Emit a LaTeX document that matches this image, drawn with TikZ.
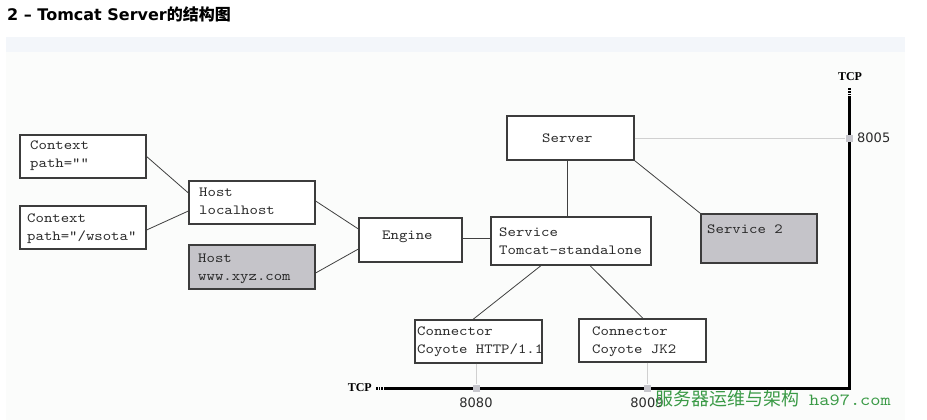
\documentclass[tikz,border=0pt]{standalone}
\usepackage{fontspec}
\setmainfont{DejaVu Sans}
\setmonofont{lmmono10-regular}[Extension=.otf, FakeStretch=1.143]
\newfontfamily\cjk{Noto Sans CJK SC}
\newfontfamily\tcpfont{Liberation Serif}
\definecolor{boxc}{HTML}{3C3C3C}
\definecolor{grayfill}{HTML}{C5C4C9}
\definecolor{txtc}{HTML}{2A2A2A}
\definecolor{linec}{HTML}{404040}
\definecolor{lightc}{HTML}{D0D0D0}
\definecolor{portc}{HTML}{C6C6CC}
\definecolor{bgc}{HTML}{FBFCFB}
\definecolor{bandc}{HTML}{F3F6FA}
\definecolor{wmc}{HTML}{3A9A46}
\tikzset{
  box/.style={draw=boxc, line width=1.2pt, inner sep=0pt, fill=white},
  gbox/.style={box, fill=grayfill},
  txt/.style={font=\ttfamily\fontsize{14}{18}\selectfont, text=txtc, inner sep=0pt, anchor=base west},
  link/.style={draw=linec, line width=0.8pt},
  plink/.style={draw=lightc, line width=1pt},
  port/.style={fill=portc, minimum size=7pt, inner sep=0pt},
  portlbl/.style={font=\fontsize{13}{13}\selectfont, text=txtc, inner sep=0pt},
  tcpline/.style={line width=3pt, draw=black},
  tcplbl/.style={font=\tcpfont\bfseries\fontsize{12}{12}\selectfont, inner sep=0pt},
}
\begin{document}
\begin{tikzpicture}[x=1pt, y=-1pt]
\useasboundingbox (0,0) rectangle (927,420);
\fill[white] (0,0) rectangle (927,420);
\fill[bgc] (6,37) rectangle (905,420);
\fill[bandc] (6,37) rectangle (905,52);

% title
\node[anchor=base west, inner sep=0pt, font=\bfseries\fontsize{16}{16}\selectfont] (title) at (7,21)
  {2 – Tomcat Server{\cjk\bfseries 的结构图}};

% boxes
\node[box, minimum width=126pt, minimum height=43pt] (ctx1) at (83,156.5) {};
\node[box, minimum width=126pt, minimum height=43pt] (ctx2) at (83,227.5) {};
\node[box, minimum width=126pt, minimum height=43pt] (host1) at (252,202.5) {};
\node[gbox, minimum width=126pt, minimum height=44pt] (host2) at (252,267) {};
\node[box, minimum width=103pt, minimum height=44pt] (engine) at (410.5,240) {};
\node[box, minimum width=127pt, minimum height=44pt] (server) at (570.5,138) {};
\node[box, minimum width=160pt, minimum height=48pt] (service) at (571,241) {};
\node[gbox, minimum width=116pt, minimum height=49pt] (svc2) at (759,238.5) {};
\node[box, minimum width=127pt, minimum height=43pt] (conn1) at (478.5,341.5) {};
\node[box, minimum width=127pt, minimum height=43pt] (conn2) at (642.5,340.5) {};

% texts
\node[txt] (ctx1a) at (30,149.5) {Context};
\node[txt] (ctx1b) at (30,167.5) {path=""};
\node[txt] (ctx2a) at (27,222.5) {Context};
\node[txt] (ctx2b) at (27,240.5) {path="/wsota"};
\node[txt] (host1a) at (199,196.5) {Host};
\node[txt] (host1b) at (199,214.5) {localhost};
\node[txt] (host2a) at (198,262.5) {Host};
\node[txt] (host2b) at (198,280.5) {www.xyz.com};
\node[txt] (enginet) at (382,239.5) {Engine};
\node[txt] (servert) at (542,142.5) {Server};
\node[txt] (servicea) at (499,236.5) {Service};
\node[txt] (serviceb) at (499,254) {Tomcat-standalone};
\node[txt] (svc2t) at (707,233.5) {Service 2};
\node[txt] (conn1a) at (417,335.5) {Connector};
\node[txt] (conn1b) at (417,353.5) {Coyote HTTP/1.1};
\node[txt] (conn2a) at (592,335.5) {Connector};
\node[txt] (conn2b) at (592,353.5) {Coyote JK2};

% links
\draw[link] (ctx1.east) -- ([yshift=9.5pt]host1.west);
\draw[link] ([yshift=-2.5pt]ctx2.east) -- ([yshift=-8.5pt]host1.west);
\draw[link] ([yshift=1.5pt]host1.east) -- ([yshift=11pt]engine.west);
\draw[link] ([yshift=-6pt]host2.east) -- ([yshift=-9pt]engine.west);
\draw[link] ([yshift=2pt]engine.east) -- ([yshift=3pt]service.west);
\draw[link] ([xshift=-3.5pt]server.south) -- ([xshift=-4pt]service.north);
\draw[link] (server.south east) -- (svc2.north west);
\draw[link] ([xshift=-30pt]service.south) -- ([xshift=-5.5pt]conn1.north);
\draw[link] ([xshift=19pt]service.south) -- ([xshift=0.5pt]conn2.north);

% TCP bus
\coordinate (tcpA) at (376,388);
\coordinate (tcpB) at (384,388);
\coordinate (tcpC) at (849,388);
\coordinate (tcpD) at (849,98);
\coordinate (tcpE) at (849,88);
\draw[tcpline, dash pattern=on 1.5pt off 1.2pt] (tcpA) -- (tcpB);
\draw[tcpline] (tcpB) -- (tcpC) -- (tcpD);
\draw[tcpline, dash pattern=on 1.5pt off 1.2pt] (tcpD) -- (tcpE);
\node[tcplbl, anchor=east] (tcpl1) at (372,388) {TCP};
\node[tcplbl] (tcpl2) at (850,77) {TCP};

% ports
\node[port] (p8005) at (849,138) {};
\node[port] (p8080) at (476,388) {};
\node[port] (p8009) at (647,388) {};
\draw[plink] (server.east) -- (p8005.west);
\draw[plink] ([xshift=-2.5pt]conn1.south) -- (p8080.north);
\draw[plink] ([xshift=4.5pt]conn2.south) -- (p8009.north);
\node[portlbl, anchor=west] (l8005) at (857,138) {8005};
\node[portlbl] (l8080) at (476,403) {8080};
\node[portlbl] (l8009) at (647,403) {8009};

% watermark
\node[anchor=west, inner sep=0pt, text=wmc] (wm) at (655,399)
  {{\cjk\fontsize{18}{18}\selectfont 服务器运维与架构}\hspace{10pt}{\ttfamily\fontsize{17}{17}\selectfont ha97.com}};
\end{tikzpicture}
\end{document}
